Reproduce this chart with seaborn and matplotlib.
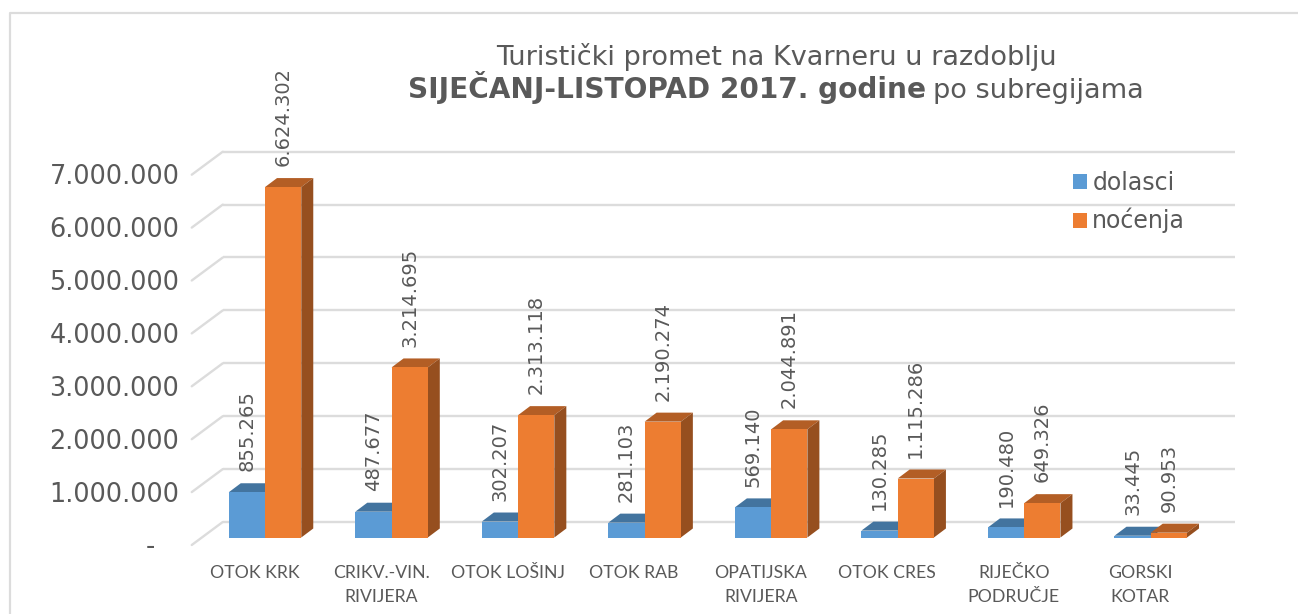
import matplotlib
matplotlib.use("Agg")
import matplotlib.pyplot as plt
import seaborn as sns
import pandas as pd
from matplotlib.patches import Polygon
from matplotlib.transforms import ScaledTranslation

# podaci
kategorije = ["OTOK KRK", "CRIKV.-VIN.\nRIVIJERA", "OTOK LOŠINJ", "OTOK RAB",
              "OPATIJSKA\nRIVIJERA", "OTOK CRES", "RIJEČKO\nPODRUČJE", "GORSKI\nKOTAR"]
dolasci = [855265, 487677, 302207, 281103, 569140, 130285, 190480, 33445]
nocenja = [6624302, 3214695, 2313118, 2190274, 2044891, 1115286, 649326, 90953]
yticks = [0, 1000000, 2000000, 3000000, 4000000, 5000000, 6000000, 7000000]
ylabels = ["-", "1.000.000", "2.000.000", "3.000.000", "4.000.000", "5.000.000", "6.000.000", "7.000.000"]

df = pd.DataFrame({"kategorija": kategorije * 2,
                   "vrijednost": dolasci + nocenja,
                   "serija": ["dolasci"] * 8 + ["noćenja"] * 8})

W, H = 1298, 614
SIVA = "#595959"
CRTA = "#dcdcdc"
PLAVA, NARANCASTA = "#5b9bd5", "#ed7d31"
VRH = {PLAVA: "#43749f", NARANCASTA: "#b35e25"}
BOK = {PLAVA: "#355d80", NARANCASTA: "#964f1f"}

sns.set_style("white")
fig = plt.figure(figsize=(W / 100, H / 100), dpi=100)

# osi u pikselima slike
x0, x1, y_nula, y_vrh = 201.75, 1214.0, 537.5, 167.2
ax = fig.add_axes([x0 / W, 1 - y_nula / H, (x1 - x0) / W, (y_nula - y_vrh) / H])

sns.barplot(data=df, x="kategorija", y="vrijednost", hue="serija",
            palette=[PLAVA, NARANCASTA], width=0.573, gap=0, saturation=1,
            linewidth=0, ax=ax, zorder=3)
ax.set_xlim(-0.5, 7.5)
ax.set_ylim(0, 7000000)
ax.set_xlabel("")
ax.set_ylabel("")
sns.despine(ax=ax, left=True, bottom=True)

# pretvorba piksela u jedinice podataka
px = 8 / (x1 - x0)
py = 7000000 / (y_nula - y_vrh)

# zidovi grafa
for v in yticks:
    ax.plot([-0.5 + 21 * px, 7.5 + 21 * px], [v + 15.5 * py] * 2, color=CRTA, lw=1.7,
            clip_on=False, zorder=1, solid_capstyle="butt")
    ax.plot([-0.5 - 10 * px, -0.5 + 21 * px], [v - 7.5 * py, v + 15.5 * py], color=CRTA, lw=1.7,
            clip_on=False, zorder=1)

# 3D strane stupaca, narancasti idu preko plavih
dx, dy = 12 * px, 9 * py
for cont, boja, z in zip(ax.containers, [PLAVA, NARANCASTA], [3, 4]):
    for bar in cont:
        bar.set_zorder(z + 0.5)
        l, r, v = bar.get_x(), bar.get_x() + bar.get_width(), bar.get_height()
        ax.add_patch(Polygon([(l, v), (r, v), (r + dx, v + dy), (l + dx, v + dy)],
                             closed=True, fc=VRH[boja], ec="none", clip_on=False, zorder=z))
        ax.add_patch(Polygon([(r, 0), (r, v), (r + dx, v + dy), (r + dx, dy)],
                             closed=True, fc=BOK[boja], ec="none", clip_on=False, zorder=z))
        ax.annotate(f"{int(v):,}".replace(",", "."), (l + (r - l) / 2, v), xytext=(0, 15),
                    textcoords="offset points", rotation=90, ha="center", va="bottom",
                    fontsize=14, color=SIVA, family="DejaVu Sans", zorder=6)

# oznake osi
ax.set_yticks(yticks)
ax.set_yticklabels(ylabels)
ax.tick_params(axis="both", length=0)
for lab, v in zip(ax.get_yticklabels(), yticks):
    lab.set_fontsize(18.4)
    lab.set_color(SIVA)
    pomak = -17.5 if v > 0 else -42
    lab.set_transform(lab.get_transform() + ScaledTranslation(pomak / 100, -7 / 100, fig.dpi_scale_trans))

ax.set_xticks(range(8))
ax.set_xticklabels(kategorije, family="Lato", fontsize=12.7, color=SIVA, linespacing=1.58)
for lab in ax.get_xticklabels():
    lab.set_transform(lab.get_transform() + ScaledTranslation(-10.5 / 100, -23 / 100, fig.dpi_scale_trans))

# legenda
ax.legend(title=None, frameon=False, loc="upper left", bbox_to_anchor=(1055 / W, 1 - 153 / H),
          bbox_transform=fig.transFigure, fontsize=17, labelcolor=SIVA, handlelength=0.6,
          handleheight=0.6, handletextpad=0.22, labelspacing=0.55, borderpad=0.26)

# naslov
VEL = 19.55
fig.text(776 / W, 1 - 57 / H, "Turistički promet na Kvarneru u razdoblju", ha="center", va="center",
         fontsize=VEL, color=SIVA)
r = fig.canvas.get_renderer()
t1 = fig.text(0, 1 - 98 / H, "SIJEČANJ-LISTOPAD 2017. godine", ha="left", va="baseline",
              fontsize=20.2, fontweight="bold", color=SIVA)
t2 = fig.text(0, 1 - 98 / H, "po subregijama", ha="left", va="baseline", fontsize=VEL, color=SIVA)
w1 = t1.get_window_extent(r).width
w2 = t2.get_window_extent(r).width
start = 776 - (w1 + w2 + 7) / 2
t1.set_x(start / W)
t2.set_x((start + w1 + 7) / W)

# okvir
fig.add_artist(plt.Line2D([9.5 / W, 9.5 / W, 1], [0, 1 - 12.5 / H, 1 - 12.5 / H], color=CRTA, lw=1.6))

fig.savefig("out.png", dpi=100)
